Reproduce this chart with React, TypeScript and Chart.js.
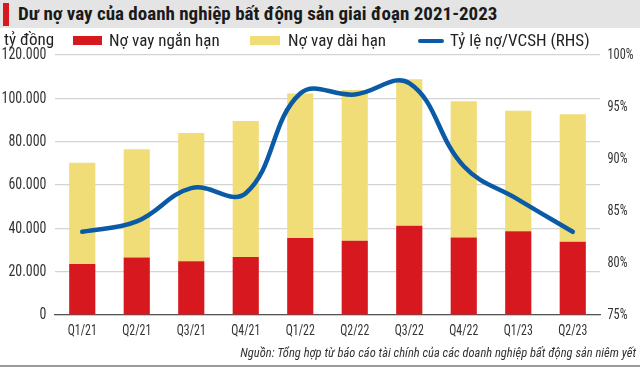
import React, { useEffect, useRef } from "react";
import { Chart, registerables } from "chart.js";

Chart.register(...registerables);

const categories = ["Q1/21", "Q2/21", "Q3/21", "Q4/21", "Q1/22", "Q2/22", "Q3/22", "Q4/22", "Q1/23", "Q2/23"];
const shortTerm = [23500, 26500, 24800, 26800, 35500, 34300, 41200, 35800, 38600, 33800];
const totalDebt = [70300, 76500, 84000, 89500, 102200, 103800, 108800, 98600, 94300, 92600];
const longTerm = totalDebt.map((t, i) => t - shortTerm[i]);
const debtToEquity = [83.0, 84.0, 87.2, 86.7, 96.3, 96.2, 97.3, 89.3, 86.1, 83.0];

const leftTicks = [0, 20000, 40000, 60000, 80000, 100000, 120000];
const rightTicks = [75, 80, 85, 90, 95, 100];

const RED = "#d7191f";
const YELLOW = "#f0dd78";
const BLUE = "#0b5aa6";
const FONT = "'Liberation Sans Narrow', 'Roboto Condensed', 'Liberation Sans', sans-serif";
const TICK_COLOR = "#333";

const fmt = (v: number) => v.toLocaleString("de-DE");
const pct = (v: number) => v + "%";

// Draws tick labels in a condensed style (horizontally compressed) like the source graphic.
const condensedTicks = {
  id: "condensedTicks",
  afterDraw(chart: any) {
    const ctx: CanvasRenderingContext2D = chart.ctx;
    const { x, y, y1 } = chart.scales;
    const area = chart.chartArea;
    const draw = (text: string, px: number, py: number, size: number, align: CanvasTextAlign, sx: number) => {
      ctx.save();
      ctx.font = `${size}px ${FONT}`;
      ctx.fillStyle = TICK_COLOR;
      ctx.textAlign = align;
      ctx.textBaseline = "middle";
      ctx.translate(px, py);
      ctx.scale(sx, 1);
      ctx.fillText(text, 0, 0);
      ctx.restore();
    };
    const scaleFor = (sample: string, size: number, target: number) => {
      ctx.save();
      ctx.font = `${size}px ${FONT}`;
      const w = ctx.measureText(sample).width;
      ctx.restore();
      return Math.min(1, target / w);
    };
    const sxL = scaleFor("120.000", 17, 45);
    leftTicks.forEach((v) => draw(fmt(v), area.left - 8.5, y.getPixelForValue(v), 17, "right", sxL));
    const sxR = scaleFor("100%", 15, 26);
    rightTicks.forEach((v) => draw(pct(v), area.right + 7.5, y1.getPixelForValue(v), 15, "left", sxR));
    const sxX = scaleFor("Q1/21", 15.5, 29);
    categories.forEach((c, i) => draw(c, x.getPixelForValue(i), area.bottom + 16, 15.5, "center", sxX));
  },
};

export default function App() {
  const ref = useRef<HTMLCanvasElement | null>(null);

  useEffect(() => {
    document.body.style.margin = "0";
    let chart: Chart | null = null;
    let cancelled = false;
    const build = () => {
      if (cancelled || !ref.current) return;
      chart = new Chart(ref.current, {
        type: "bar",
        data: {
          labels: categories,
          datasets: [
            {
              type: "line",
              label: "Tỷ lệ nợ/VCSH (RHS)",
              data: debtToEquity,
              yAxisID: "y1",
              borderColor: BLUE,
              borderWidth: 4.5,
              tension: 0.4,
              pointRadius: 0,
              borderCapStyle: "round",
              order: 0,
            } as any,
            {
              label: "Nợ vay ngắn hạn",
              data: shortTerm,
              backgroundColor: RED,
              yAxisID: "y",
              stack: "debt",
              barPercentage: 0.48,
              categoryPercentage: 1,
              order: 1,
            },
            {
              label: "Nợ vay dài hạn",
              data: longTerm,
              backgroundColor: YELLOW,
              yAxisID: "y",
              stack: "debt",
              barPercentage: 0.48,
              categoryPercentage: 1,
              order: 1,
            },
          ],
        },
        options: {
          responsive: false,
          animation: false,
          layout: { padding: { top: 55, left: 0, right: 0, bottom: 0 } },
          plugins: { legend: { display: false }, tooltip: { enabled: false }, title: { display: false } },
          scales: {
            x: {
              stacked: true,
              grid: { display: false, drawTicks: false },
              border: { display: true, color: "#555", width: 1.2 },
              ticks: { display: false },
              afterFit: (s: any) => { s.height = 54; },
            },
            y: {
              stacked: true,
              position: "left",
              min: 0,
              max: 120000,
              afterBuildTicks: (s: any) => { s.ticks = leftTicks.map((v) => ({ value: v })); },
              grid: { color: "#d4d4d4", lineWidth: 1.2, drawTicks: false },
              border: { display: false },
              ticks: { display: false },
              afterFit: (s: any) => { s.width = 55; },
            },
            y1: {
              position: "right",
              min: 75,
              max: 100,
              afterBuildTicks: (s: any) => { s.ticks = rightTicks.map((v) => ({ value: v })); },
              grid: { display: false, drawTicks: false },
              border: { display: false },
              ticks: { display: false },
              afterFit: (s: any) => { s.width = 40; },
            },
          },
        },
        plugins: [condensedTicks],
      });
    };
    const fonts: any = (document as any).fonts;
    if (fonts && fonts.load) {
      Promise.all([
        fonts.load("16px 'Liberation Sans Narrow'"),
        fonts.load("16px 'Roboto Condensed'"),
        fonts.load("16px 'Liberation Sans'"),
      ]).then(build, build);
    } else {
      build();
    }
    return () => {
      cancelled = true;
      if (chart) chart.destroy();
    };
  }, []);

  const legendText: React.CSSProperties = { position: "absolute", top: 30, fontFamily: FONT, fontSize: 17, color: "#222", lineHeight: "20px", whiteSpace: "nowrap" };

  return (
    <div style={{ position: "relative", width: 640, height: 369, background: "#fff", overflow: "hidden" }}>
      <div style={{ position: "absolute", left: 0, top: 0, width: 640, height: 28, background: "#e4e4e4" }} />
      <div style={{ position: "absolute", left: 3, top: 3, width: 6, height: 23, background: RED }} />
      <div style={{ position: "absolute", left: 18, top: 3, fontFamily: FONT, fontWeight: "bold", fontSize: 19, color: "#1a1a1a", lineHeight: "22px", whiteSpace: "nowrap" }}>
        Dư nợ vay của doanh nghiệp bất động sản giai đoạn 2021-2023
      </div>
      <canvas ref={ref} width={640} height={369} style={{ position: "absolute", left: 0, top: 0, width: 640, height: 369 }} />
      <div style={{ ...legendText, left: 4, top: 29 }}>tỷ đồng</div>
      <div style={{ position: "absolute", left: 73, top: 36, width: 29, height: 9, background: RED }} />
      <div style={{ ...legendText, left: 109 }}>Nợ vay ngắn hạn</div>
      <div style={{ position: "absolute", left: 250, top: 36, width: 30, height: 9, background: YELLOW }} />
      <div style={{ ...legendText, left: 288 }}>Nợ vay dài hạn</div>
      <div style={{ position: "absolute", left: 418, top: 39, width: 26, height: 4, borderRadius: 2, background: BLUE }} />
      <div style={{ ...legendText, left: 450 }}>Tỷ lệ nợ/VCSH (RHS)</div>
      <div style={{ position: "absolute", right: 4, top: 345, fontFamily: FONT, fontStyle: "italic", fontSize: 12.5, color: "#333", lineHeight: "16px", whiteSpace: "nowrap" }}>
        Nguồn: Tổng hợp từ báo cáo tài chính của các doanh nghiệp bất động sản niêm yết
      </div>
      <div style={{ position: "absolute", left: 0, top: 365, width: 640, height: 2, background: "#9a9a9a" }} />
    </div>
  );
}
